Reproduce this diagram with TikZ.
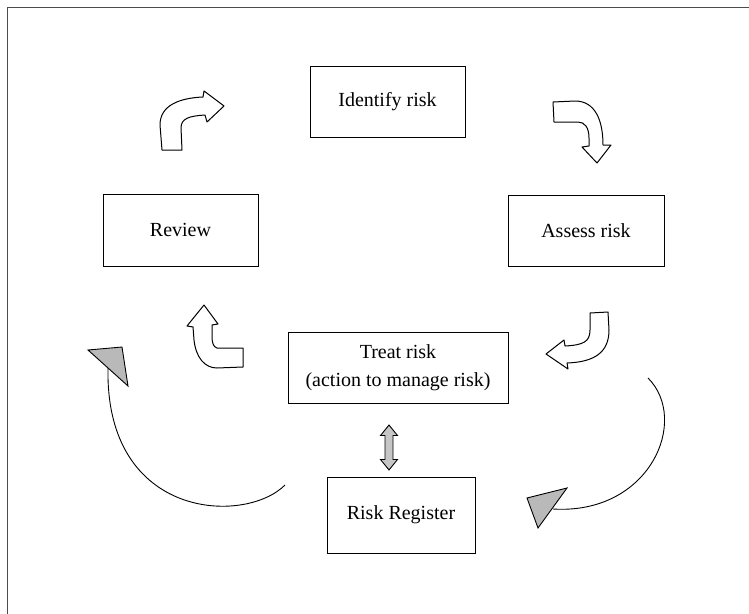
\documentclass[tikz,border=0pt]{standalone}
\usepackage{fontspec}
\setmainfont{Liberation Serif}
\begin{document}
\begin{tikzpicture}[x=1pt,y=-1pt,
  stage/.style={draw=black, line width=0.8pt, fill=white, inner sep=0pt,
    font=\fontsize{20}{28}\selectfont, align=center},
  bentarrow/.style={draw=black, line width=1pt, fill=white, line join=round},
  cyclearc/.style={draw=black, line width=0.9pt},
  arrowtip/.style={draw=black, line width=0.9pt, fill=gray!55, line join=miter},
  linkarrow/.style={draw=black, line width=0.9pt, fill=gray!45, line join=miter}]
\useasboundingbox (0,0) rectangle (749,613);

% outer frame (continues past the right and bottom edges)
\draw[gray!60!black, line width=0.8pt] (7,630) -- (7,7) -- (770,7);

% process stages
\node[stage, minimum width=155pt, minimum height=71pt] (identify) at (387.5,101.5) {Identify risk};
\node[stage, minimum width=156pt, minimum height=71pt] (assess) at (586,230.5) {Assess risk};
\node[stage, minimum width=155pt, minimum height=72pt] (review) at (180.5,230) {Review};
\node[stage, minimum width=220pt, minimum height=71pt] (treat) at (398,368) {Treat risk\\(action to manage risk)};
\node[stage, minimum width=148pt, minimum height=76pt] (register) at (401,515) {Risk Register};

% bent block arrows around the cycle
% review -> identify
\draw[bentarrow] (162,150) -- (160,125) .. controls (160,105) and (180,98) .. (203,97)
  -- (204,91) -- (224,106) -- (207,122) -- (205,115)
  .. controls (190,116) and (181,118) .. (181,128) -- (182,150) -- cycle;
% identify -> assess
\draw[bentarrow] (553,102) -- (575,101) .. controls (595,101) and (603,120) .. (603,145)
  -- (611,145) -- (597,163) -- (582,147) -- (589,146) -- (589,138)
  .. controls (589,128) and (585,122) .. (578,122) -- (554,122) -- cycle;
% assess -> treat
\draw[bentarrow] (590,313) -- (608,312) -- (609,330) .. controls (609,352) and (595,362) .. (567,363)
  -- (568,369) -- (546,354) -- (564,340) -- (565,346)
  .. controls (583,345) and (590,342) .. (590,330) -- cycle;
% treat -> review
\draw[bentarrow] (243,348) -- (217,348) .. controls (213,347) and (212,342) .. (212,336)
  -- (212,325) -- (218,324) -- (204,305) -- (187,326) -- (193,327) -- (194,340)
  .. controls (196,358) and (205,368) .. (217,368) -- (243,367) -- cycle;

% two-way link between treatment and the register
\coordinate (link) at (389,447.5);
\begin{scope}[shift={(link)}]
  \draw[linkarrow] (0,-22.5) -- (8.5,-12) -- (4,-12) -- (4,12) -- (8.5,12) -- (0,22.5)
    -- (-8.5,12) -- (-4,12) -- (-4,-12) -- (-8.5,-12) -- cycle;
\end{scope}

% large feedback arcs
\coordinate (larcstart) at (285,485);
\coordinate (larcend) at (108,368);
\coordinate (rarcstart) at (648,378);
\coordinate (rarcend) at (553,509);
\draw[cyclearc] (larcstart) .. controls (245,525) and (105,520) .. (larcend);
\draw[cyclearc] (rarcstart) .. controls (690,420) and (650,515) .. (rarcend);
\draw[arrowtip] (88,350) -- (122,347) -- (128,386) -- cycle;
\draw[arrowtip] (527,498) -- (567,488) -- (538,528) -- cycle;
\end{tikzpicture}
\end{document}
